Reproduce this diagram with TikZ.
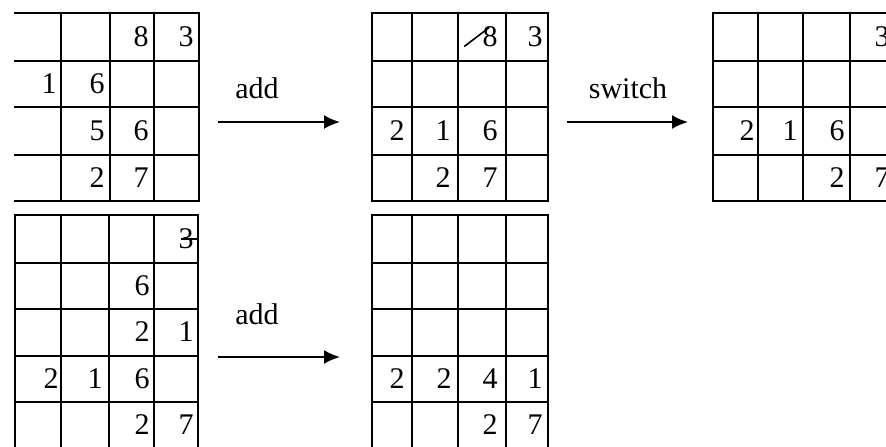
\documentclass[tikz,border=0pt]{standalone}
\usepackage{fontspec}
\setmainfont{Liberation Serif}
\usetikzlibrary{arrows.meta}
\begin{document}
\begin{tikzpicture}[x=0.5pt, y=-0.5pt,
    grid/.style={line width=1.1pt, line cap=rect},
    num/.style={anchor=east, inner sep=0pt, font=\fontsize{15}{18}\selectfont},
    lbl/.style={inner sep=0pt, font=\fontsize{15}{18}\selectfont},
    op/.style={-{Latex[length=8pt,width=7pt]}, line width=1.1pt},
    strike/.style={line width=0.8pt}]
    \useasboundingbox (0,0) rectangle (886,446);
    \begin{scope}
    \clip (0,0) rectangle (886,446);
    % grid 1, no left border
    \foreach \y in {13,61,107,155,201} \draw[grid] (15,\y) -- (199,\y);
    \foreach \x in {61,110,154,199} \draw[grid] (\x,13) -- (\x,201);
    % grid 2
    \foreach \y in {13,61,107,155,201} \draw[grid] (372,\y) -- (548,\y);
    \foreach \x in {372,412,458,506,548} \draw[grid] (\x,13) -- (\x,201);
    % grid 3
    \foreach \y in {13,61,107,155,201} \draw[grid] (713,\y) -- (896,\y);
    \foreach \x in {713,758,803,850,896} \draw[grid] (\x,13) -- (\x,201);
    % grid 4
    \foreach \y in {215,263,309,356,402} \draw[grid] (15,\y) -- (198,\y);
    \foreach \x in {15,61,109,154,198} \draw[grid] (\x,215) -- (\x,452);
    % grid 5
    \foreach \y in {215,263,309,356,402} \draw[grid] (372,\y) -- (548,\y);
    \foreach \x in {372,412,458,506,548} \draw[grid] (\x,215) -- (\x,452);
    % cell values
    \foreach \n/\x/\y/\v in {ga-13/149/37/8, ga-14/194/37/3, ga-21/57/84/1, ga-22/105/84/6,
        ga-32/105/131/5, ga-33/149/131/6, ga-42/105/178/2, ga-43/149/178/7,
        gb-13/498/37/8, gb-14/543/37/3, gb-31/405/131/2, gb-32/451/131/1, gb-33/498/131/6,
        gb-42/451/178/2, gb-43/498/178/7,
        gc-14/890/37/3, gc-31/755/131/2, gc-32/798/131/1, gc-33/845/131/6,
        gc-43/845/178/2, gc-44/890/178/7,
        gd-14/194/239/3, gd-23/150/286/6, gd-33/150/332/2, gd-34/194/332/1,
        gd-41/59/379/2, gd-42/103/379/1, gd-43/150/379/6, gd-53/150/425/2, gd-54/194/425/7,
        ge-41/405/379/2, ge-42/452/379/2, ge-43/498/379/4, ge-44/543/379/1,
        ge-53/498/425/2, ge-54/543/425/7}
        \node[num] (\n) at (\x,\y) {\v};
    \end{scope}
    % struck values
    \draw[strike] ([shift={(-18,-1)}]gb-13.south west) -- ([shift={(7,1)}]gb-13.north west);
    \draw[strike] ([xshift=1.5pt]gd-14.west) -- ([xshift=1.5pt]gd-14.east);
    % operations
    \coordinate (a1s) at (218,122);
    \coordinate (a1e) at (340,122);
    \coordinate (a2s) at (567,122);
    \coordinate (a2e) at (688,122);
    \coordinate (a3s) at (218,357);
    \coordinate (a3e) at (340,357);
    \draw[op] (a1s) -- (a1e);
    \draw[op] (a2s) -- (a2e);
    \draw[op] (a3s) -- (a3e);
    \node[lbl] (add1)   at (257,88)  {add};
    \node[lbl] (switch) at (628,88)  {switch};
    \node[lbl] (add2)   at (257,314) {add};
\end{tikzpicture}
\end{document}
